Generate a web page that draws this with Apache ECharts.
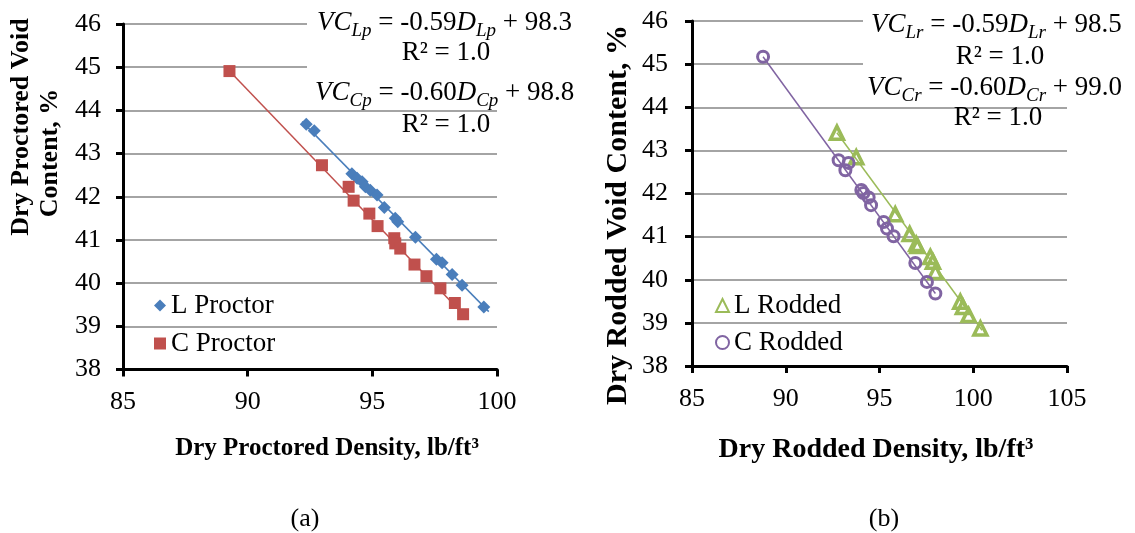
<!DOCTYPE html>
<html>
<head>
<meta charset="utf-8">
<script src="https://cdn.jsdelivr.net/npm/echarts@6/dist/echarts.min.js"></script>
<style>
  html, body { margin: 0; padding: 0; background: #fff; }
  #main { width: 1135px; height: 533px; }
</style>
</head>
<body>
<div id="main"></div>
<script>
// values
var lProctorDensity = [92.35, 92.67, 94.18, 94.39, 94.59, 94.72, 94.92, 95.19, 95.48, 95.92, 96.02, 96.73, 97.57, 97.80, 98.20, 98.60, 99.47];
var lProctorVoid    = [43.68, 43.53, 42.53, 42.43, 42.35, 42.23, 42.15, 42.04, 41.75, 41.50, 41.42, 41.06, 40.55, 40.47, 40.20, 39.95, 39.45];
var cProctorDensity = [89.27, 92.98, 94.05, 94.25, 94.88, 95.21, 95.88, 95.92, 96.12, 96.69, 97.17, 97.73, 98.31, 98.64];
var cProctorVoid    = [44.91, 42.73, 42.23, 41.91, 41.61, 41.32, 41.04, 40.92, 40.80, 40.43, 40.16, 39.88, 39.54, 39.28];
var lRoddedDensity = [92.73, 93.76, 95.84, 96.61, 96.96, 97.02, 97.71, 97.85, 97.98, 99.31, 99.45, 99.75, 100.38];
var lRoddedVoid    = [43.41, 42.84, 41.52, 41.06, 40.83, 40.78, 40.53, 40.42, 40.18, 39.49, 39.37, 39.18, 38.87];
var cRoddedDensity = [88.79, 92.82, 93.35, 93.18, 94.03, 94.14, 94.42, 94.55, 95.22, 95.40, 95.75, 96.91, 97.53, 97.98];
var cRoddedVoid    = [45.17, 42.77, 42.71, 42.54, 42.08, 42.01, 41.91, 41.73, 41.34, 41.19, 41.01, 40.39, 39.95, 39.68];

// trendline end points (as drawn)
var lProctorTrend = [[92.18, 43.74], [99.67, 39.34]];
var cProctorTrend = [[89.27, 44.91], [98.64, 39.28]];
var lRoddedTrend  = [[92.73, 43.41], [100.47, 38.83]];
var cRoddedTrend  = [[88.79, 45.17], [97.98, 39.68]];

var proctorTicks = [85, 90, 95, 100];
var roddedTicks = [85, 90, 95, 100, 105];

var serif = '"Liberation Serif", "Times New Roman", serif';
var colors = { blue: '#4a7ebb', red: '#c0504d', green: '#9bbb59', purple: '#8064a2', grid: '#868686' };

var pairs = function (xs, ys) {
  var out = [];
  for (var i = 0; i < xs.length; i++) out.push([xs[i], ys[i]]);
  return out;
};

var xAxisOf = function (gridIndex, ticks) {
  return {
    type: 'value', gridIndex: gridIndex,
    min: ticks[0], max: ticks[ticks.length - 1], interval: 5,
    axisLine: { lineStyle: { color: '#000', width: 3 } },
    axisTick: { show: true, inside: false, length: 7, lineStyle: { color: '#000', width: 3 } },
    axisLabel: { color: '#000', fontFamily: serif, fontSize: 26, margin: 20 },
    splitLine: { show: false }
  };
};
var yAxisOf = function (gridIndex, margin) {
  return {
    type: 'value', gridIndex: gridIndex,
    min: 38, max: 46, interval: 1,
    axisLine: { show: true, lineStyle: { color: '#000', width: 3 } },
    axisTick: { show: true, inside: false, length: 7, lineStyle: { color: '#000', width: 3 } },
    axisLabel: { color: '#000', fontFamily: serif, fontSize: 26, margin: margin },
    splitLine: { show: true, lineStyle: { color: colors.grid, width: 1.5 } }
  };
};

var trend = function (name, idx, data, color) {
  return {
    name: name, type: 'line', xAxisIndex: idx, yAxisIndex: idx, data: data,
    symbol: 'none', silent: true, z: 1,
    lineStyle: { color: color, width: 1.5 }
  };
};

// rich text for the trendline equations
var eqRich = {
  i: { fontFamily: serif, fontStyle: 'italic', fontSize: 27, color: '#000' },
  s: { fontFamily: serif, fontStyle: 'italic', fontSize: 19, color: '#000', padding: [15, 0, 0, 0] },
  n: { fontFamily: serif, fontSize: 27, color: '#000' }
};
var eqText = function (sub, slope, icpt, x, y) {
  return {
    type: 'text', x: x, y: y, z: 20,
    style: {
      text: '{i|VC}{s|' + sub + '}{n| = ' + slope + '}{i|D}{s|' + sub + '}{n| + ' + icpt + '}',
      rich: eqRich, align: 'left', verticalAlign: 'middle'
    }
  };
};
var plainText = function (txt, x, y, fs, bold, rot) {
  return {
    type: 'text', x: x, y: y, z: 20, rotation: rot || 0,
    style: {
      text: txt, fontFamily: serif, fontSize: fs, fontWeight: bold ? 'bold' : 'normal',
      fill: '#000', align: 'center', verticalAlign: 'middle'
    }
  };
};

var chart = echarts.init(document.getElementById('main'), null, { renderer: 'canvas' });

var legendText = { fontFamily: serif, fontSize: 27, color: '#000' };

var option = {
  backgroundColor: '#fff',
  animation: false,
  grid: [
    { left: 123, top: 24, width: 374, height: 345.5, containLabel: false, outerBoundsMode: 'none' },
    { left: 692, top: 21, width: 375, height: 345, containLabel: false, outerBoundsMode: 'none' }
  ],
  xAxis: [xAxisOf(0, proctorTicks), xAxisOf(1, roddedTicks)],
  yAxis: [yAxisOf(0, 22), yAxisOf(1, 24)],
  legend: [
    {
      data: ['L Proctor', 'C Proctor'], orient: 'vertical', left: 149, top: 287,
      itemWidth: 12, itemHeight: 12, itemGap: 11, itemTextGap: 6,
      textStyle: legendText
    },
    {
      data: ['L Rodded', 'C Rodded'], orient: 'vertical', left: 710, top: 287,
      itemWidth: 13, itemHeight: 13, itemGap: 10, itemTextGap: 6,
      textStyle: legendText
    }
  ],
  graphic: [
    { type: 'rect', shape: { x: 307, y: 6, width: 300, height: 70 }, style: { fill: '#fff' }, z: 15 },
    { type: 'rect', shape: { x: 863, y: 4, width: 272, height: 68 }, style: { fill: '#fff' }, z: 15 },
    eqText('Lp', '-0.59', '98.3', 317, 23),
    plainText('R² = 1.0', 446, 53, 27),
    eqText('Cp', '-0.60', '98.8', 315, 93),
    plainText('R² = 1.0', 446, 125, 27),
    eqText('Lr', '-0.59', '98.5', 871, 25),
    plainText('R² = 1.0', 1000, 57, 27),
    eqText('Cr', '-0.60', '99.0', 867, 88),
    plainText('R² = 1.0', 998, 118, 27),
    plainText('Dry Proctored Density, lb/ft³', 327, 449, 25, true),
    plainText('Dry Rodded Density, lb/ft³', 876, 450, 28, true),
    plainText('Dry Proctored Void', 21, 127, 26, true, Math.PI / 2),
    plainText('Content, %', 50, 153, 26, true, Math.PI / 2),
    plainText('Dry Rodded Void Content, %', 618, 215, 30, true, Math.PI / 2),
    plainText('(a)', 305, 519, 26),
    plainText('(b)', 884, 519, 26)
  ],
  series: [
    trend('L Proctor trend', 0, lProctorTrend, colors.blue),
    trend('C Proctor trend', 0, cProctorTrend, colors.red),
    trend('L Rodded trend', 1, lRoddedTrend, colors.green),
    trend('C Rodded trend', 1, cRoddedTrend, colors.purple),
    {
      name: 'L Proctor', type: 'scatter', xAxisIndex: 0, yAxisIndex: 0,
      data: pairs(lProctorDensity, lProctorVoid),
      symbol: 'diamond', symbolSize: 13, itemStyle: { color: colors.blue, opacity: 1 }
    },
    {
      name: 'C Proctor', type: 'scatter', xAxisIndex: 0, yAxisIndex: 0,
      data: pairs(cProctorDensity, cProctorVoid),
      symbol: 'rect', symbolSize: 12, itemStyle: { color: colors.red, opacity: 1 }
    },
    {
      name: 'L Rodded', type: 'scatter', xAxisIndex: 1, yAxisIndex: 1,
      data: pairs(lRoddedDensity, lRoddedVoid),
      symbol: 'triangle', symbolSize: 13,
      itemStyle: { color: 'rgba(255,255,255,0)', borderColor: colors.green, borderWidth: 3.5, opacity: 1 }
    },
    {
      name: 'C Rodded', type: 'scatter', xAxisIndex: 1, yAxisIndex: 1,
      data: pairs(cRoddedDensity, cRoddedVoid),
      symbol: 'circle', symbolSize: 11,
      itemStyle: { color: 'rgba(255,255,255,0)', borderColor: colors.purple, borderWidth: 3, opacity: 1 }
    }
  ]
};

chart.setOption(option);
</script>
</body>
</html>
